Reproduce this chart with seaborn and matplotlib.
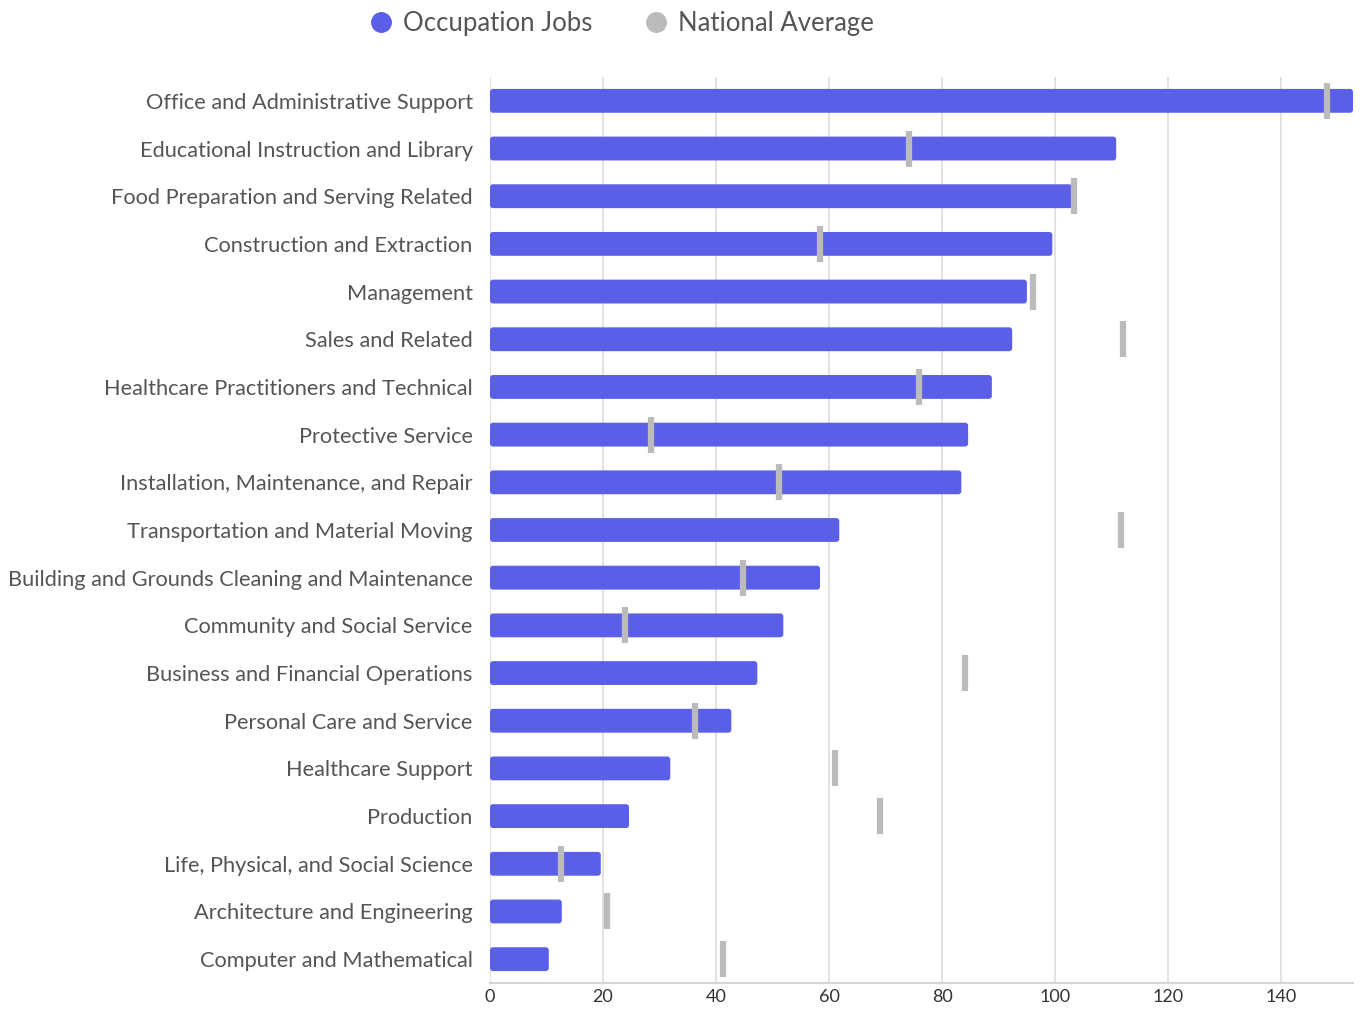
import matplotlib
matplotlib.use("Agg")
import matplotlib.pyplot as plt
import seaborn as sns
import pandas as pd
from matplotlib.patches import FancyBboxPatch
from matplotlib.lines import Line2D

categories = [
    "Office and Administrative Support",
    "Educational Instruction and Library",
    "Food Preparation and Serving Related",
    "Construction and Extraction",
    "Management",
    "Sales and Related",
    "Healthcare Practitioners and Technical",
    "Protective Service",
    "Installation, Maintenance, and Repair",
    "Transportation and Material Moving",
    "Building and Grounds Cleaning and Maintenance",
    "Community and Social Service",
    "Business and Financial Operations",
    "Personal Care and Service",
    "Healthcare Support",
    "Production",
    "Life, Physical, and Social Science",
    "Architecture and Engineering",
    "Computer and Mathematical",
]
occupation_jobs = [153, 110.8, 103.0, 99.5, 95.0, 92.4, 88.8, 84.6, 83.4, 61.8,
                   58.4, 51.9, 47.3, 42.7, 31.9, 24.6, 19.6, 12.7, 10.4]
national_average = [148.1, 74.2, 103.4, 58.4, 96.1, 112.0, 75.9, 28.5, 51.2, 111.7,
                    44.8, 23.9, 84.1, 36.3, 61.1, 69.0, 12.6, 20.7, 41.2]
x_ticks = [0, 20, 40, 60, 80, 100, 120, 140]

BAR = "#5B5FE8"
AVG = "#BBBBBB"
TXT = "#555555"

df = pd.DataFrame({"cat": categories, "jobs": occupation_jobs, "avg": national_average})

sns.set_theme(style="white")
plt.rcParams["font.family"] = ["Lato", "DejaVu Sans"]

fig = plt.figure(figsize=(13.67, 10.09), dpi=100)
ax = fig.add_axes([490 / 1367, 1 - 983 / 1009, (1353 - 490) / 1367, (983 - 77) / 1009])

sns.barplot(data=df, x="jobs", y="cat", color=BAR, width=0.5, ax=ax, zorder=2,
            saturation=1)

xmax = 152.7
ax.set_xlim(0, xmax)
ax.set_ylim(len(categories) - 0.5, -0.5)

# replace rectangles with rounded bars
px_x = xmax / (1353 - 490)
px_y = len(categories) / (983 - 77)
rects = list(ax.patches)
for r in rects:
    x0, y0 = r.get_x(), r.get_y()
    w, h = r.get_width(), r.get_height()
    w = min(w, xmax - x0)
    r.remove()
    fp = FancyBboxPatch((x0, y0), w, h,
                        boxstyle=f"round,pad=0,rounding_size={3 * px_x}",
                        mutation_aspect=px_y / px_x,
                        facecolor=BAR, edgecolor="none", zorder=2)
    ax.add_patch(fp)

sns.scatterplot(data=df, x="avg", y="cat", marker="|", s=650, linewidth=4.5,
                color=AVG, ax=ax, zorder=3, legend=False)

ax.set_xticks(x_ticks)
ax.grid(axis="x", color="#DDDDDD", linewidth=1.2, zorder=0)
ax.grid(axis="y", visible=False)
for s in ["top", "right", "left"]:
    ax.spines[s].set_visible(False)
ax.spines["bottom"].set_color("#D5D5D5")
ax.spines["bottom"].set_linewidth(1.5)
ax.set_xlabel("")
ax.set_ylabel("")
ax.tick_params(axis="y", length=0, pad=12.5, labelsize=15.7, labelcolor=TXT)
ax.tick_params(axis="x", length=0, pad=4, labelsize=13, labelcolor="#333333")

handles = [
    Line2D([], [], marker="o", linestyle="none", markersize=14, color=BAR, label="Occupation Jobs"),
    Line2D([], [], marker="o", linestyle="none", markersize=14, color=AVG, label="National Average"),
]
leg = fig.legend(handles=handles, loc="center", bbox_to_anchor=(621 / 1367, 1 - 23 / 1009),
                 ncol=2, frameon=False, fontsize=18.5, handletextpad=0.35, columnspacing=2.0,
                 handlelength=1.0)
for t in leg.get_texts():
    t.set_color(TXT)

fig.savefig("out.png", dpi=100)
